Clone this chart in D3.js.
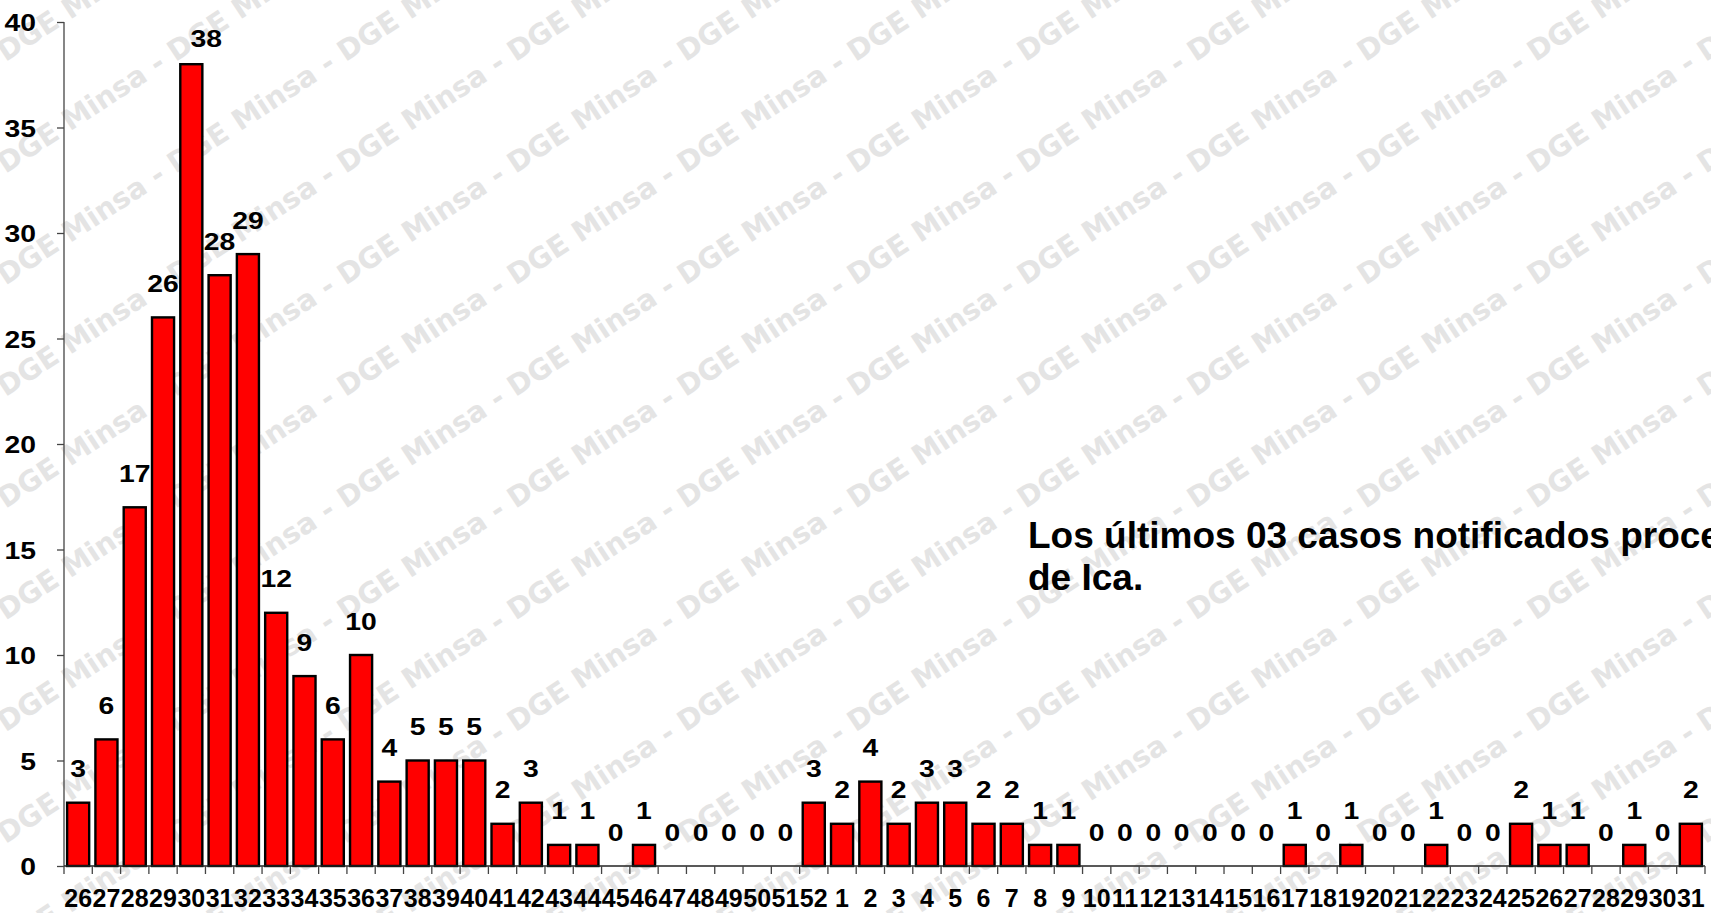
<!DOCTYPE html>
<html>
<head>
<meta charset="utf-8">
<script src="https://cdn.jsdelivr.net/npm/d3@7"></script>
<style>
  html, body { margin: 0; padding: 0; background: #ffffff; overflow: hidden; }
  svg { display: block; }
</style>
</head>
<body>
<svg id="chart" width="1711" height="913"></svg>
<script>
// ---- data ----
const weeks = [26,27,28,29,30,31,32,33,34,35,36,37,38,39,40,41,42,43,44,45,46,47,48,49,50,51,52,
               1,2,3,4,5,6,7,8,9,10,11,12,13,14,15,16,17,18,19,20,21,22,23,24,25,26,27,28,29,30,31];
const cases = [3,6,17,26,38,28,29,12,9,6,10,4,5,5,5,2,3,1,1,0,1,0,0,0,0,0,3,
               2,4,2,3,3,2,2,1,1,0,0,0,0,0,0,0,1,0,1,0,0,1,0,0,2,1,1,0,1,0,2];
const yTicks = [0,5,10,15,20,25,30,35,40];
const noteLines = ["Los últimos 03 casos notificados proceden", "de Ica."];
const watermarkText = "Minsa - DGE";

// ---- layout ----
const W = 1711, H = 913;
const svg = d3.select("#chart");
const FONT = "'Liberation Sans', Arial, Helvetica, sans-serif";
const SX = 1.18;           // horizontal stretch of the original picture's labels
const digitW = 0.556;      // Arial digit advance (em)
const stretchLen = (s, fs) => String(s).length * digitW * fs * SX;

// ---- watermark (background) ----
const wm = svg.append("g").attr("class", "watermark");
const wmStepX = 170, wmStepY = 111.7, wmX0 = 70, wmY0 = 19.9, wmAngle = -33.3;
for (let j = -1; j * wmStepY + wmY0 < H + 120; j++) {
  for (let i = -1; i * wmStepX + wmX0 < W + 10; i++) {
    const x = wmX0 + i * wmStepX, y = wmY0 + j * wmStepY;
    wm.append("text")
      .attr("transform", `translate(${x},${y}) rotate(${wmAngle})`)
      .attr("font-family", "'DejaVu Sans', Verdana, sans-serif")
      .attr("font-weight", "bold")
      .attr("font-size", 28.5)
      .attr("fill", "#e4e4e4")
      .text(watermarkText);
  }
}

// ---- scales ----
const idx = d3.range(cases.length);
const x = d3.scaleBand().domain(idx).range([64, 1705]).paddingInner(0.22).paddingOuter(0.11);
const y = d3.scaleLinear().domain([0, 40]).range([866, 22]);
const step = x.step();

// ---- y axis ----
const yAxis = svg.append("g").attr("transform", "translate(64,0)")
  .call(d3.axisLeft(y).tickValues(yTicks).tickSize(7).tickPadding(21).tickFormat(d3.format("d")));
yAxis.select(".domain").attr("stroke", "#444").attr("stroke-width", 1.3).attr("d", `M0,${y(40)}V${y(0)}`);
yAxis.selectAll(".tick line").attr("stroke", "#444").attr("stroke-width", 1.3);
yAxis.selectAll(".tick text")
  .attr("dy", "0.36em")
  .attr("textLength", d => stretchLen(d, 24))
  .attr("lengthAdjust", "spacingAndGlyphs")
  .attr("font-family", FONT).attr("font-weight", "bold").attr("font-size", 24).attr("fill", "#000");

// ---- bars ----
svg.append("g").selectAll("rect").data(idx).join("rect")
  .attr("x", i => x(i))
  .attr("y", i => y(cases[i]))
  .attr("width", x.bandwidth())
  .attr("height", i => y(0) - y(cases[i]))
  .attr("fill", "#ff0000")
  .attr("stroke", "#000")
  .attr("stroke-width", 2.4);

// ---- x axis ----
const xg = svg.append("g");
xg.append("line").attr("x1", 64).attr("x2", 1705).attr("y1", y(0)).attr("y2", y(0))
  .attr("stroke", "#222").attr("stroke-width", 1.3);
const bounds = idx.map(i => x(i) - (step - x.bandwidth()) / 2).concat([1705]);
xg.selectAll("line.tk").data(bounds).join("line").attr("class", "tk")
  .attr("x1", d => d).attr("x2", d => d).attr("y1", y(0)).attr("y2", y(0) + 8)
  .attr("stroke", "#444").attr("stroke-width", 1.3);
xg.selectAll("text").data(idx).join("text")
  .attr("x", i => x(i) + x.bandwidth() / 2)
  .attr("y", 907)
  .attr("text-anchor", "middle")
  .attr("font-family", FONT).attr("font-weight", "bold").attr("font-size", 25)
  .attr("fill", "#000")
  .text(i => weeks[i]);

// ---- value labels ----
const maxV = d3.max(cases);
svg.append("g").selectAll("text").data(idx).join("text")
  .attr("x", i => x(i) + x.bandwidth() / 2 + (cases[i] === maxV ? 15 : 0))
  .attr("y", i => y(cases[i]) - 25.5 + (cases[i] === maxV ? 8 : 0))
  .attr("text-anchor", "middle")
  .attr("textLength", i => stretchLen(cases[i], 24))
  .attr("lengthAdjust", "spacingAndGlyphs")
  .attr("font-family", FONT).attr("font-weight", "bold").attr("font-size", 24)
  .attr("fill", "#000")
  .text(i => cases[i]);

// ---- note ----
svg.append("g").selectAll("text").data(noteLines).join("text")
  .attr("x", 1028)
  .attr("y", (d, k) => 548 + k * 42)
  .attr("font-family", FONT).attr("font-weight", "bold").attr("font-size", 37)
  .attr("fill", "#000")
  .text(d => d);
</script>
</body>
</html>
